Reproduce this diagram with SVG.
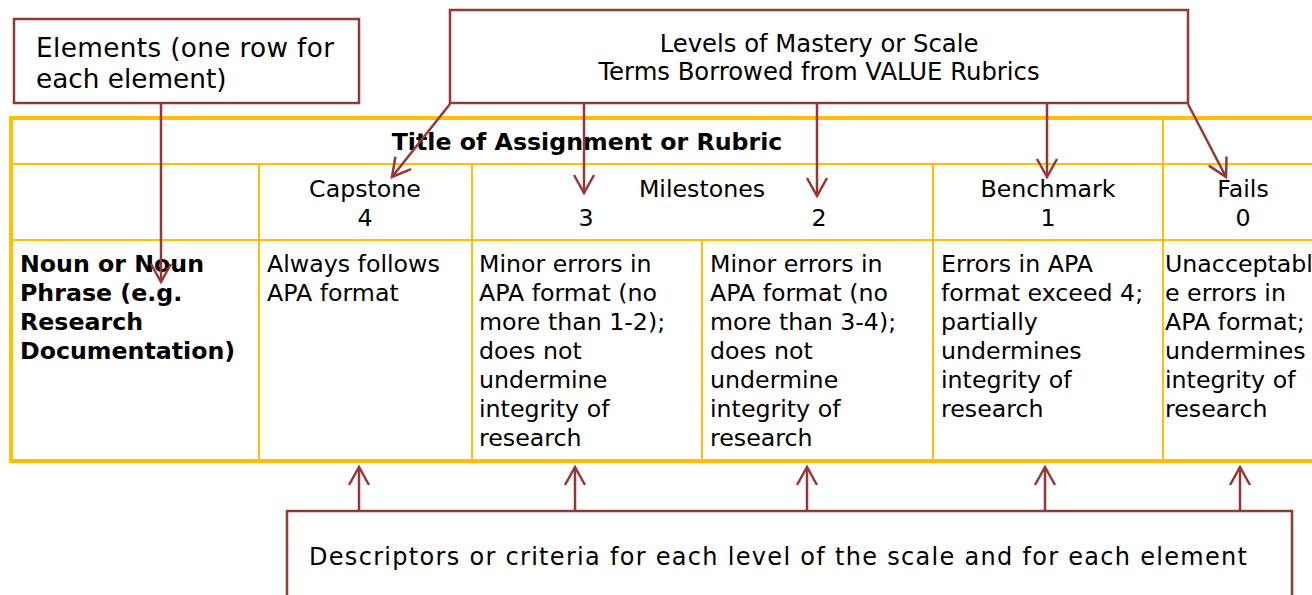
<svg xmlns="http://www.w3.org/2000/svg" width="1312" height="595" viewBox="0 0 1312 595">
<style>
text{font-family:"DejaVu Sans",Verdana,sans-serif;fill:#000;font-size:23.7px}
.b{font-weight:bold}
.c{text-anchor:middle}
.big{font-size:26.3px}
.lv{font-size:24.3px}
.ds{font-size:24px}
.thick{fill:none;stroke:#FFC000;stroke-width:4}
.thin{stroke:#FFC000;stroke-width:2;fill:none}
.box{fill:#fff;stroke:#953735;stroke-width:2.5}
.con{stroke:#953735;stroke-width:2.5;fill:none;marker-end:url(#ah)}
</style>
<defs>
<marker id="ah" markerUnits="userSpaceOnUse" orient="auto" refX="0" refY="0" markerWidth="30" markerHeight="30" style="overflow:visible">
<path d="M-18,-10 L0,0 L-18,10" fill="none" stroke="#953735" stroke-width="2.5"/>
</marker>
</defs>
<rect width="1312" height="595" fill="#fff"/>
<g id="table">
<line class="thin" x1="11" y1="164" x2="1320" y2="164"/>
<line class="thin" x1="11" y1="240" x2="1320" y2="240"/>
<line class="thin" x1="259" y1="164" x2="259" y2="461"/>
<line class="thin" x1="472" y1="164" x2="472" y2="461"/>
<line class="thin" x1="702" y1="240" x2="702" y2="461"/>
<line class="thin" x1="933" y1="164" x2="933" y2="461"/>
<line class="thin" x1="1163" y1="118" x2="1163" y2="461"/>
<rect class="thick" x="11" y="118" width="1330" height="343"/>
<text class="b c" x="587" y="150">Title of Assignment or Rubric</text>
<text class="c" x="365" y="197">Capstone</text>
<text class="c" x="365" y="226">4</text>
<text class="c" x="702" y="197">Milestones</text>
<text class="c" x="586" y="226">3</text>
<text class="c" x="819" y="226">2</text>
<text class="c" x="1048" y="197">Benchmark</text>
<text class="c" x="1048" y="226">1</text>
<text class="c" x="1243" y="197">Fails</text>
<text class="c" x="1243" y="226">0</text>
<text class="b" x="20" y="272">Noun or Noun</text>
<text class="b" x="20" y="301">Phrase (e.g.</text>
<text class="b" x="20" y="330">Research</text>
<text class="b" x="20" y="359">Documentation)</text>
<text x="267" y="272">Always follows</text>
<text x="267" y="301">APA format</text>
<text x="479" y="272">Minor errors in</text>
<text x="479" y="301">APA format (no</text>
<text x="479" y="330">more than 1-2);</text>
<text x="479" y="359">does not</text>
<text x="479" y="388">undermine</text>
<text x="479" y="417">integrity of</text>
<text x="479" y="446">research</text>
<text x="710" y="272">Minor errors in</text>
<text x="710" y="301">APA format (no</text>
<text x="710" y="330">more than 3-4);</text>
<text x="710" y="359">does not</text>
<text x="710" y="388">undermine</text>
<text x="710" y="417">integrity of</text>
<text x="710" y="446">research</text>
<text x="941" y="272">Errors in APA</text>
<text x="941" y="301">format exceed 4;</text>
<text x="941" y="330">partially</text>
<text x="941" y="359">undermines</text>
<text x="941" y="388">integrity of</text>
<text x="941" y="417">research</text>
<text x="1165" y="272">Unacceptabl</text>
<text x="1165" y="301">e errors in</text>
<text x="1165" y="330">APA format;</text>
<text x="1165" y="359">undermines</text>
<text x="1165" y="388">integrity of</text>
<text x="1165" y="417">research</text>
</g>
<g id="elements">
<rect class="box" x="14" y="19" width="345" height="84"/>
<text class="big" x="36" y="57" textLength="298">Elements (one row for</text>
<text class="big" x="36" y="88">each element)</text>
</g>
<g id="levels">
<rect class="box" x="450" y="10" width="738" height="93"/>
<text class="c lv" x="819" y="52">Levels of Mastery or Scale</text>
<text class="c lv" x="819" y="80">Terms Borrowed from VALUE Rubrics</text>
</g>
<g id="descriptors">
<rect class="box" x="287" y="511" width="1005" height="100"/>
<text class="ds" x="309" y="565" textLength="938">Descriptors or criteria for each level of the scale and for each element</text>
</g>
<g id="connectors">
<line class="con" x1="161" y1="103" x2="161" y2="282"/>
<line class="con" x1="450" y1="104" x2="392" y2="177"/>
<line class="con" x1="584" y1="104" x2="584" y2="193"/>
<line class="con" x1="817" y1="104" x2="817" y2="196"/>
<line class="con" x1="1047" y1="104" x2="1047" y2="177"/>
<line class="con" x1="1188" y1="104" x2="1226" y2="177"/>
<line class="con" x1="359" y1="511" x2="359" y2="467"/>
<line class="con" x1="575" y1="511" x2="575" y2="467"/>
<line class="con" x1="807" y1="511" x2="807" y2="467"/>
<line class="con" x1="1045" y1="511" x2="1045" y2="467"/>
<line class="con" x1="1240" y1="511" x2="1240" y2="467"/>
</g>
</svg>
